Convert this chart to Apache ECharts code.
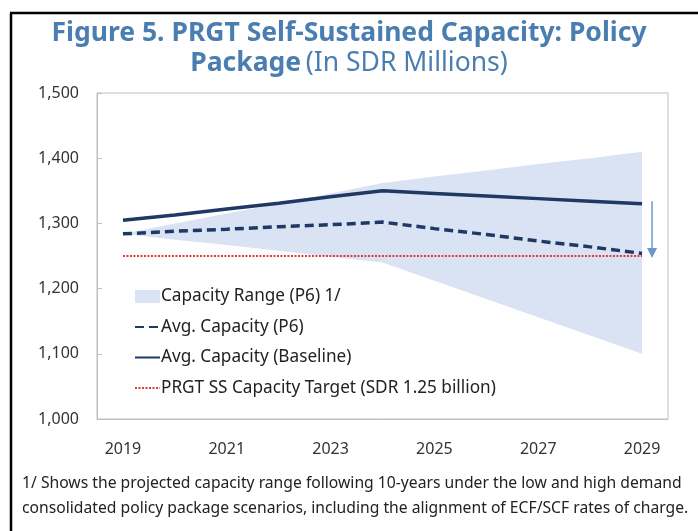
<!DOCTYPE html>
<html>
<head>
<meta charset="utf-8">
<style>
  html, body { margin: 0; padding: 0; background: #fff; }
  #chart { width: 698px; height: 531px; }
</style>
</head>
<body>
<div id="chart"></div>
<script src="https://cdn.jsdelivr.net/npm/echarts@6/dist/echarts.min.js"></script>
<script>
var years = ['2019', '2020', '2021', '2022', '2023', '2024', '2025', '2026', '2027', '2028', '2029'];
var baseline = [1305, 1313, 1322, 1331, 1341, 1350, 1346, 1342, 1338, 1334, 1330];
var p6Avg = [1284, 1288, 1291, 1295, 1298, 1302, 1292, 1283, 1273, 1264, 1254];
var rangeLow = [1284, 1275, 1267, 1258, 1249, 1240, 1212, 1184, 1156, 1128, 1100];
var rangeHigh = [1284, 1300, 1315, 1330, 1346, 1362, 1372, 1381, 1391, 1400, 1410];
var target = [1250, 1250, 1250, 1250, 1250, 1250, 1250, 1250, 1250, 1250, 1250];
var yTicks = { min: 1000, max: 1500, step: 100 };

var FONT = 'Noto Sans';
var navy = '#1f3864';
var titleBlue = '#4a7eb0';

var chart = echarts.init(document.getElementById('chart'));

var rangeSpan = rangeHigh.map(function (v, i) { return v - rangeLow[i]; });
var noDot = { opacity: 0 };

var option = {
  animation: false,
  textStyle: { fontFamily: FONT },
  title: [{
    left: 'center',
    top: 15,
    text: 'Figure 5. PRGT Self-Sustained Capacity: Policy',
    textStyle: { fontFamily: FONT, fontSize: 26.5, fontWeight: 'bold', color: titleBlue }
  }, {
    left: 'center',
    top: 45,
    text: '{b|Package} {n|(In SDR Millions)}',
    textStyle: {
      rich: {
        b: { fontFamily: FONT, fontSize: 26.5, fontWeight: 'bold', color: titleBlue },
        n: { fontFamily: FONT, fontSize: 26.5, fontWeight: 'normal', color: titleBlue }
      }
    }
  }, {
    left: 17,
    top: 466,
    text: '1/ Shows the projected capacity range following 10-years under the low and high demand\nconsolidated policy package scenarios, including the alignment of ECF/SCF rates of charge.',
    textStyle: { fontFamily: FONT, fontSize: 15.7, fontWeight: 'normal', color: '#222', lineHeight: 25 }
  }],
  legend: {
    orient: 'vertical',
    left: 129,
    top: 283,
    itemWidth: 25,
    itemHeight: 13,
    itemGap: 13.5,
    textStyle: { fontFamily: FONT, fontSize: 17.2, color: '#222', padding: [0, 0, 0, -4] },
    data: [
      { name: 'Capacity Range (P6) 1/', icon: 'rect' },
      { name: 'Avg. Capacity (P6)', itemStyle: noDot },
      { name: 'Avg. Capacity (Baseline)', itemStyle: noDot },
      { name: 'PRGT SS Capacity Target (SDR 1.25 billion)', itemStyle: noDot }
    ]
  },
  grid: {
    left: 97, top: 93, right: 30, bottom: 112,
    show: true, borderColor: '#bfbfbf', borderWidth: 1
  },
  xAxis: {
    type: 'category',
    data: years,
    boundaryGap: true,
    axisLine: { lineStyle: { color: '#bfbfbf' } },
    axisTick: { inside: true, length: 6, lineStyle: { color: '#bfbfbf' } },
    axisLabel: { interval: 1, margin: 22, fontSize: 16, color: '#333', fontFamily: FONT }
  },
  yAxis: {
    type: 'value',
    min: yTicks.min,
    max: yTicks.max,
    interval: yTicks.step,
    axisLine: { show: true, lineStyle: { color: '#bfbfbf' } },
    axisTick: { show: true, inside: true, length: 5, lineStyle: { color: '#bfbfbf' } },
    splitLine: { show: false },
    axisLabel: {
      margin: 18, fontSize: 16, color: '#333', fontFamily: FONT,
      formatter: function (v) { return v.toLocaleString('en-US'); }
    }
  },
  series: [
    {
      name: 'rangeBase',
      type: 'line',
      data: rangeLow,
      stack: 'range',
      symbol: 'none',
      lineStyle: { opacity: 0 },
      silent: true
    },
    {
      name: 'Capacity Range (P6) 1/',
      type: 'line',
      data: rangeSpan,
      stack: 'range',
      symbol: 'none',
      itemStyle: { color: '#dae3f3' },
      lineStyle: { opacity: 0, width: 0 },
      areaStyle: { color: '#dae3f3', opacity: 1 }
    },
    {
      name: 'PRGT SS Capacity Target (SDR 1.25 billion)',
      type: 'line',
      data: target,
      symbol: 'none',
      itemStyle: { color: '#e0383c' },
      lineStyle: { color: '#e0383c', width: 2, type: [2, 1.5] }
    },
    {
      name: 'Avg. Capacity (P6)',
      type: 'line',
      data: p6Avg,
      symbol: 'none',
      itemStyle: { color: navy },
      lineStyle: { color: navy, width: 3.5, type: [9, 5] }
    },
    {
      name: 'Avg. Capacity (Baseline)',
      type: 'line',
      data: baseline,
      symbol: 'none',
      itemStyle: { color: navy },
      lineStyle: { color: navy, width: 3.5 }
    }
  ]
};

chart.setOption(option);

// arrow from baseline end down to the P6 end, just right of the last year
var last = years[years.length - 1];
var pTop = chart.convertToPixel({ xAxisIndex: 0, yAxisIndex: 0 }, [last, 1334]);
var pEnd = chart.convertToPixel({ xAxisIndex: 0, yAxisIndex: 0 }, [last, 1247]);
var ax = pTop[0] + 10;
var arrowColor = '#6b96d0';
chart.setOption({
  graphic: [
    { type: 'line', shape: { x1: 10, y1: 13, x2: 698, y2: 13 }, style: { stroke: '#000', lineWidth: 2.5 } },
    { type: 'line', shape: { x1: 11, y1: 13, x2: 11, y2: 531 }, style: { stroke: '#000', lineWidth: 2.5 } },
    { type: 'line', shape: { x1: ax, y1: pTop[1], x2: ax, y2: pEnd[1] - 8 }, style: { stroke: arrowColor, lineWidth: 1.5 } },
    { type: 'polygon', shape: { points: [[ax - 5, pEnd[1] - 10], [ax + 5, pEnd[1] - 10], [ax, pEnd[1]]] }, style: { fill: arrowColor } }
  ]
});
</script>
</body>
</html>
